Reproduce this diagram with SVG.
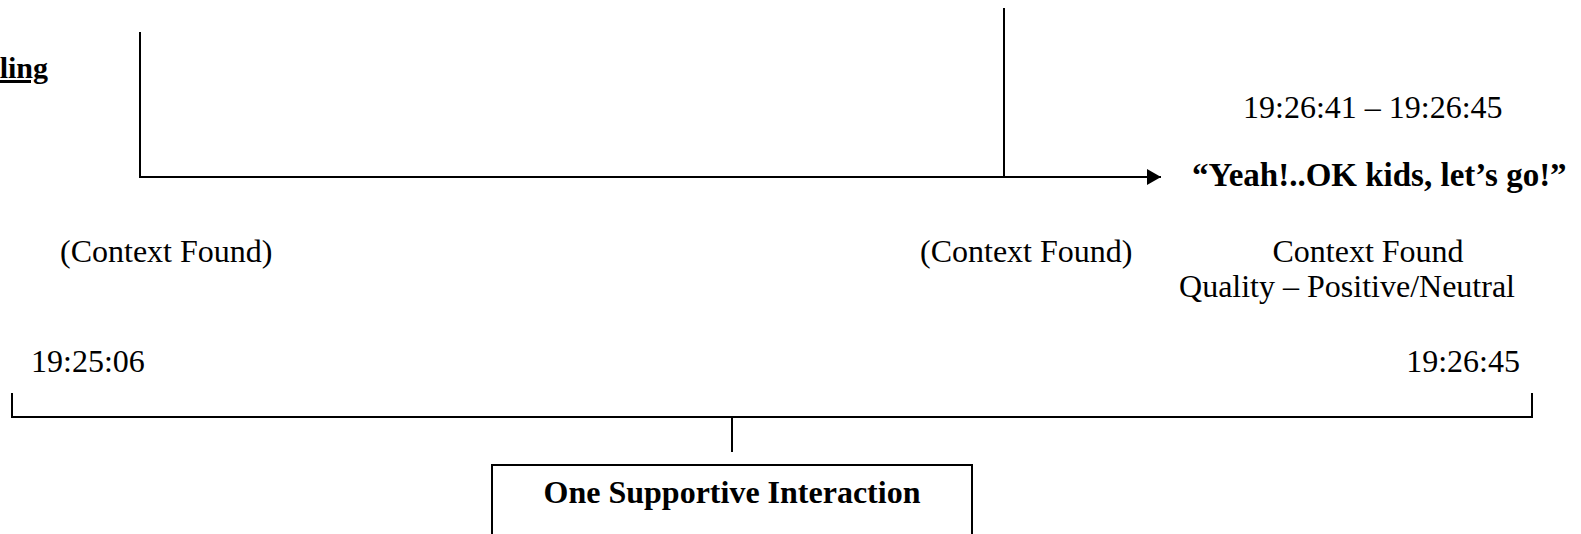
<svg xmlns="http://www.w3.org/2000/svg" width="1581" height="534" viewBox="0 0 1581 534">
<style>
.t{font-family:"Liberation Serif","Times New Roman",serif;font-size:32px;fill:#000}
.b{font-weight:bold}
.ln{stroke:#000;stroke-width:2;fill:none}
</style>
<defs>
<marker id="ah" markerWidth="14" markerHeight="16" refX="14" refY="8" orient="auto" markerUnits="userSpaceOnUse">
<path d="M0,0 L14,8 L0,16 Z" fill="#000"/>
</marker>
</defs>
<rect width="1581" height="534" fill="#fff"/>
<g id="connectors">
<path class="ln" d="M140,32 V177 H1161" marker-end="url(#ah)"/>
<line class="ln" x1="1004" y1="8" x2="1004" y2="177"/>
<path class="ln" d="M12,393 V417 H1532 V393"/>
<line class="ln" x1="732" y1="417" x2="732" y2="452"/>
</g>
<g id="title"><text class="t b" x="48" y="78" text-anchor="end" text-decoration="underline" style="font-size:30px">ling</text></g>
<g id="time-range"><text class="t" x="1243" y="118">19:26:41 – 19:26:45</text></g>
<g id="quote"><text class="t b" x="1192" y="186" style="font-size:33px">“Yeah!..OK kids, let’s go!”</text></g>
<g id="ctx1"><text class="t" x="60" y="262">(Context Found)</text></g>
<g id="ctx2"><text class="t" x="920" y="262">(Context Found)</text></g>
<g id="ctx3"><text class="t" x="1368" y="262" text-anchor="middle">Context Found</text><text class="t" x="1347" y="297" text-anchor="middle">Quality – Positive/Neutral</text></g>
<g id="t-start"><text class="t" x="31" y="372">19:25:06</text></g>
<g id="t-end"><text class="t" x="1520" y="372" text-anchor="end">19:26:45</text></g>
<g id="summary"><rect class="ln" x="492" y="465" width="480" height="80"/><text class="t b" x="732" y="503" text-anchor="middle">One Supportive Interaction</text></g>
</svg>
